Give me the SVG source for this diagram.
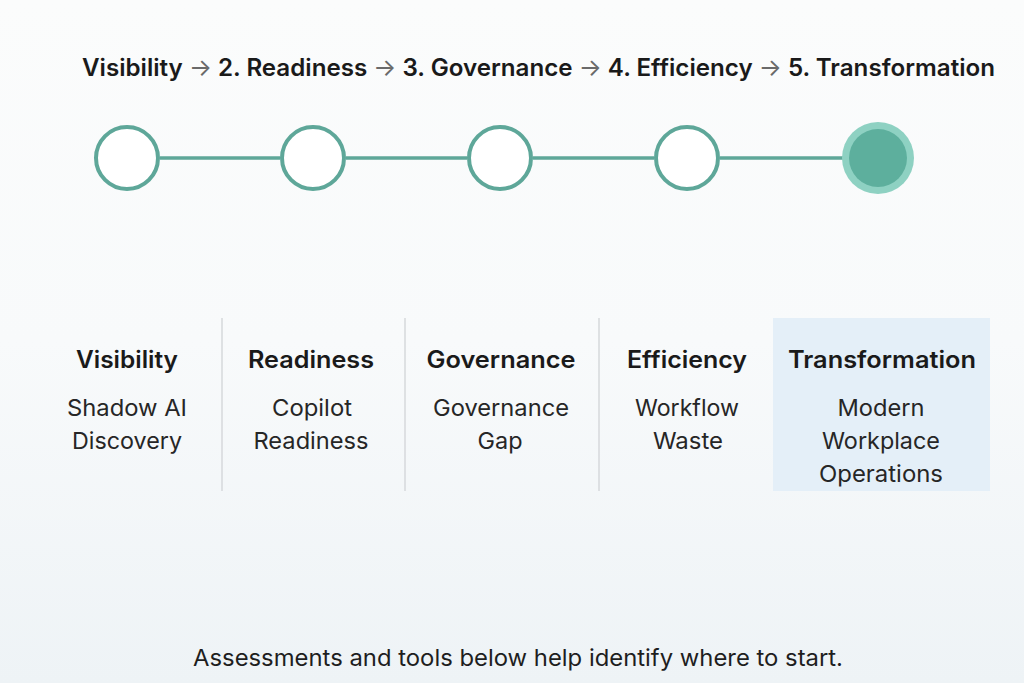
<svg xmlns="http://www.w3.org/2000/svg" width="1024" height="683" viewBox="0 0 1024 683">
<defs>
<linearGradient id="bg" x1="0" y1="0" x2="0" y2="1">
<stop offset="0" stop-color="#fbfcfc"/>
<stop offset="0.5" stop-color="#f8fafb"/>
<stop offset="1" stop-color="#eef3f6"/>
</linearGradient>
<style>
.title{font-family:Inter,"Liberation Sans",sans-serif;font-size:24px;font-weight:600;fill:#1a1a1a}
.arr{fill:#6a6a6a;font-weight:400}
.ring{fill:#ffffff;stroke:#5ea799;stroke-width:4}
.link{stroke:#5ea799;stroke-width:3.5;fill:none}
.head{font-family:Inter,"Liberation Sans",sans-serif;font-size:24px;font-weight:600;fill:#1a1a1a;text-anchor:middle}
.sub{font-family:Inter,"Liberation Sans",sans-serif;font-size:23px;font-weight:400;fill:#262626;text-anchor:middle}
.div{stroke:#d6d9db;stroke-width:1.5}
.foot{font-family:Inter,"Liberation Sans",sans-serif;font-size:23px;font-weight:400;fill:#1e1e1e;text-anchor:middle}
</style>
</defs>
<rect width="1024" height="683" fill="url(#bg)"/>
<text class="title" x="82" y="76" textLength="913" lengthAdjust="spacingAndGlyphs">Visibility <tspan class="arr">→</tspan> 2. Readiness <tspan class="arr">→</tspan> 3. Governance <tspan class="arr">→</tspan> 4. Efficiency <tspan class="arr">→</tspan> 5. Transformation</text>
<g id="connectors">
<line class="link" x1="160" y1="158" x2="280" y2="158"/>
<line class="link" x1="346" y1="158" x2="467" y2="158"/>
<line class="link" x1="533" y1="158" x2="654" y2="158"/>
<line class="link" x1="720" y1="158" x2="843" y2="158"/>
</g>
<g id="step1"><circle class="ring" cx="127" cy="158" r="31"/></g>
<g id="step2"><circle class="ring" cx="313" cy="158" r="31"/></g>
<g id="step3"><circle class="ring" cx="500" cy="158" r="31"/></g>
<g id="step4"><circle class="ring" cx="687" cy="158" r="31"/></g>
<g id="step5"><circle cx="878" cy="158" r="36" fill="#8ed1c2"/><circle cx="878" cy="158" r="29" fill="#5daf9d"/></g>
<rect x="773" y="318" width="217" height="173" fill="#e4eff8"/>
<line class="div" x1="222" y1="318" x2="222" y2="491"/>
<line class="div" x1="405" y1="318" x2="405" y2="491"/>
<line class="div" x1="599" y1="318" x2="599" y2="491"/>
<g id="col1"><text class="head" x="127" y="368" textLength="102" lengthAdjust="spacingAndGlyphs">Visibility</text><text class="sub" x="127" y="416" textLength="120" lengthAdjust="spacingAndGlyphs">Shadow AI</text><text class="sub" x="127" y="449" textLength="110" lengthAdjust="spacingAndGlyphs">Discovery</text></g>
<g id="col2"><text class="head" x="311" y="368" textLength="126" lengthAdjust="spacingAndGlyphs">Readiness</text><text class="sub" x="312" y="416" textLength="80" lengthAdjust="spacingAndGlyphs">Copilot</text><text class="sub" x="311" y="449" textLength="115" lengthAdjust="spacingAndGlyphs">Readiness</text></g>
<g id="col3"><text class="head" x="501" y="368" textLength="149" lengthAdjust="spacingAndGlyphs">Governance</text><text class="sub" x="501" y="416" textLength="136" lengthAdjust="spacingAndGlyphs">Governance</text><text class="sub" x="500" y="449" textLength="45" lengthAdjust="spacingAndGlyphs">Gap</text></g>
<g id="col4"><text class="head" x="687" y="368" textLength="120" lengthAdjust="spacingAndGlyphs">Efficiency</text><text class="sub" x="687" y="416" textLength="104" lengthAdjust="spacingAndGlyphs">Workflow</text><text class="sub" x="688" y="449" textLength="70" lengthAdjust="spacingAndGlyphs">Waste</text></g>
<g id="col5"><text class="head" x="882" y="368" textLength="188" lengthAdjust="spacingAndGlyphs">Transformation</text><text class="sub" x="881" y="416" textLength="87" lengthAdjust="spacingAndGlyphs">Modern</text><text class="sub" x="881" y="449" textLength="118" lengthAdjust="spacingAndGlyphs">Workplace</text><text class="sub" x="881" y="482" textLength="124" lengthAdjust="spacingAndGlyphs">Operations</text></g>
<text class="foot" x="518" y="666" textLength="650" lengthAdjust="spacingAndGlyphs">Assessments and tools below help identify where to start.</text>
</svg>
